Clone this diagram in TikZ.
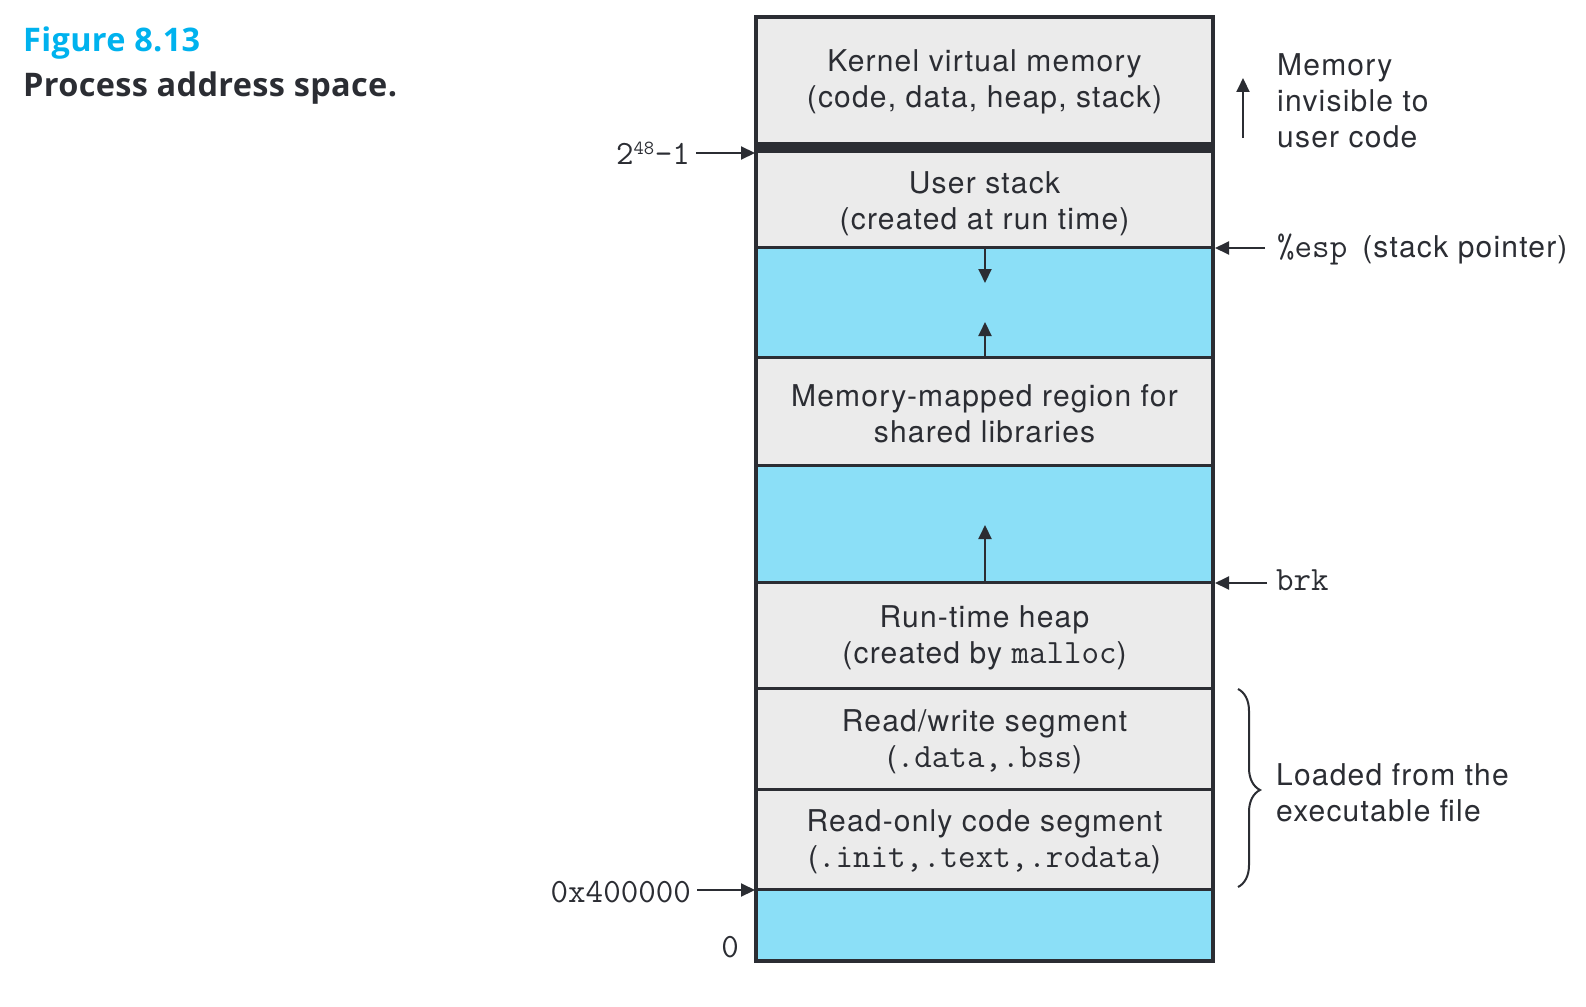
\documentclass[tikz,border=0pt]{standalone}
\usepackage{fontspec}
\setmainfont{TeX Gyre Heros}[LetterSpace=4]
\newfontfamily\titlefont{Open Sans}[LetterSpace=1]
\usetikzlibrary{arrows.meta,decorations.pathreplacing}
\definecolor{ink}{HTML}{2B2D33}
\definecolor{segcyan}{HTML}{8BDFF7}
\definecolor{seggray}{HTML}{EBEBEB}
\definecolor{figcyan}{HTML}{00B2EE}
\newcommand\bodyfont{\fontsize{30}{36}\selectfont}
\newcommand\monotxt[1]{{\fontsize{34}{36}\selectfont\ttfamily #1}}
\begin{document}
\begin{tikzpicture}[x=1pt,y=-1pt,
  arr/.style={-{Triangle[length=14pt,width=13pt]},line width=2pt,draw=ink},
  segtext/.style={align=center,text=ink,font=\bodyfont,inner sep=0pt},
  sidetext/.style={align=left,text=ink,font=\bodyfont,inner sep=0pt},
  titletext/.style={anchor=base west,inner sep=0pt,font=\titlefont\bfseries\fontsize{32.5}{38}\selectfont},
  divider/.style={line width=3pt,draw=ink}]
\useasboundingbox (0,0) rectangle (1586,1006);
% title
\node[titletext,text=figcyan] (fig) at (23,52) {Figure 8.13};
\node[titletext,text=ink] (cap) at (23,97) {Process address space.};
% segments
\fill[seggray] (756,17) rectangle (1213,142);
\fill[ink] (756,142) rectangle (1213,153);
\fill[seggray] (756,153) rectangle (1213,247);
\fill[segcyan] (756,247) rectangle (1213,357);
\fill[seggray] (756,357) rectangle (1213,465);
\fill[segcyan] (756,465) rectangle (1213,582);
\fill[seggray] (756,582) rectangle (1213,889);
\fill[segcyan] (756,889) rectangle (1213,961);
\foreach \yy in {247,357,465,582,688,789,889}
  \draw[divider] (756,\yy) -- (1213,\yy);
\draw[line width=4pt,draw=ink] (756,17) rectangle (1213,961);
% segment texts
\node[segtext] (kern) at (984.5,82) {Kernel virtual memory\\(code, data, heap, stack)};
\node[segtext] (ustack) at (984.5,204) {User stack\\(created at run time)};
\node[segtext] (mmap) at (984.5,414) {Memory-mapped region for\\shared libraries};
\node[segtext] (heap) at (984.5,638) {Run-time heap\\(created by \monotxt{malloc})};
\node[segtext] (rw) at (984.5,742) {Read/write segment\\(\monotxt{.data,.bss})};
\node[segtext] (ro) at (984.5,842) {Read-only code segment\\(\monotxt{.init,.text,.rodata})};
% growth arrows
\coordinate (stacktop) at (985,247);
\coordinate (stacktip) at (985,283);
\coordinate (mmapbot) at (985,357);
\coordinate (mmaptip) at (985,322);
\coordinate (heaptop) at (985,582);
\coordinate (heaptip) at (985,525);
\draw[arr] (stacktop) -- (stacktip);
\draw[arr] (mmapbot) -- (mmaptip);
\draw[arr] (heaptop) -- (heaptip);
% left labels
\node[anchor=base east,inner sep=0pt,text=ink] (lim) at (690,164) {\monotxt{2\textsuperscript{\fontsize{20}{20}\selectfont 48}–1}};
\coordinate (limpt) at (755,153);
\draw[arr] ([xshift=6pt]lim.east |- limpt) -- (limpt);
\node[anchor=base east,inner sep=0pt,text=ink] (text0) at (691,902) {\monotxt{0x400000}};
\coordinate (textpt) at (755,890);
\draw[arr] ([xshift=6pt]text0.east |- textpt) -- (textpt);
\node[anchor=base east,inner sep=0pt,text=ink] (zero) at (739,957) {\monotxt{0}};
% right labels
\node[sidetext,anchor=west] (invis) at (1277,101) {Memory\\invisible to\\user code};
\coordinate (invbot) at (1243,138);
\coordinate (invtip) at (1243,78);
\draw[arr] (invbot) -- (invtip);
\node[anchor=base west,inner sep=0pt,text=ink,font=\bodyfont] (esp) at (1277,257) {\monotxt{\%esp}\hspace{15pt}(stack pointer)};
\coordinate (esppt) at (1215,248);
\draw[arr] ([xshift=-12pt]esp.west |- esppt) -- (esppt);
\node[anchor=base west,inner sep=0pt,text=ink] (brk) at (1276,590) {\monotxt{brk}};
\coordinate (brkpt) at (1215,583);
\draw[arr] ([xshift=-9pt]brk.west |- brkpt) -- (brkpt);
\node[sidetext,anchor=west] (loaded) at (1276,793) {Loaded from the\\executable file};
\coordinate (brtop) at (1238,689);
\coordinate (brbot) at (1238,887);
\draw[line width=2pt,draw=ink,decorate,decoration={brace,amplitude=22pt,aspect=0.51}] (brtop) -- (brbot);
\end{tikzpicture}
\end{document}
